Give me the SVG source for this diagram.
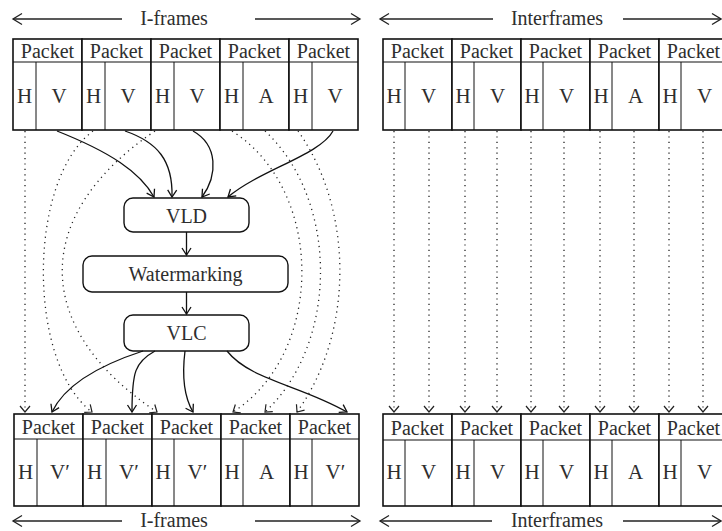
<svg xmlns="http://www.w3.org/2000/svg" width="722" height="531" viewBox="0 0 722 531">
<style>
text{font-family:"Liberation Serif","DejaVu Serif",serif;fill:#2e2e2e;text-anchor:middle}
.pk{font-size:20px}
.cl{font-size:21px}
.lb{font-size:20px}
.bx{font-size:20px}
.cell{fill:#fff;stroke:#111;stroke-width:1.6}
.hl{stroke:#111;stroke-width:1.2}
.dv{stroke:#111;stroke-width:1}
.box{fill:#fff;stroke:#111;stroke-width:1.4}
.sol{fill:none;stroke:#111;stroke-width:1.3;marker-end:url(#ah)}
.dot{fill:none;stroke:#222;stroke-width:1.3;stroke-dasharray:1.2 4.2;marker-end:url(#dh)}
.fa{fill:none;stroke:#222;stroke-width:1.3}
</style>
<defs>
<marker id="ah" markerUnits="userSpaceOnUse" viewBox="-10 -10 20 20" markerWidth="20" markerHeight="20" refX="0" refY="0" orient="auto">
<path d="M-7,-4.5 L0,0 L-7,4.5" fill="none" stroke="#111" stroke-width="1.3" stroke-dasharray="none"/>
</marker>
<marker id="dh" markerUnits="userSpaceOnUse" viewBox="-10 -10 20 20" markerWidth="20" markerHeight="20" refX="0" refY="0" orient="auto">
<path d="M-6,-5 L0,0 L-6,5" fill="none" stroke="#222" stroke-width="1.2" stroke-dasharray="none"/>
</marker>
<marker id="fh" markerUnits="userSpaceOnUse" viewBox="-10 -10 20 20" markerWidth="20" markerHeight="20" refX="0" refY="0" orient="auto-start-reverse">
<path d="M-9,-5.5 L0,0 L-9,5.5" fill="none" stroke="#222" stroke-width="1.3"/>
</marker>
</defs>

<!-- frame labels -->
<g id="label-iframes-top">
<line class="fa" x1="13" y1="19" x2="122" y2="19" marker-start="url(#fh)"/>
<text class="lb" x="174" y="25">I-frames</text>
<line class="fa" x1="255" y1="19" x2="360" y2="19" marker-end="url(#fh)"/>
</g>
<g id="label-interframes-top">
<line class="fa" x1="380" y1="19" x2="493" y2="19" marker-start="url(#fh)"/>
<text class="lb" x="557" y="25">Interframes</text>
<line class="fa" x1="623" y1="19" x2="721" y2="19" marker-end="url(#fh)"/>
</g>
<g id="label-iframes-bottom">
<line class="fa" x1="13" y1="521" x2="122" y2="521" marker-start="url(#fh)"/>
<text class="lb" x="174" y="527">I-frames</text>
<line class="fa" x1="255" y1="521" x2="360" y2="521" marker-end="url(#fh)"/>
</g>
<g id="label-interframes-bottom">
<line class="fa" x1="380" y1="521" x2="492" y2="521" marker-start="url(#fh)"/>
<text class="lb" x="557" y="527">Interframes</text>
<line class="fa" x1="623" y1="521" x2="721" y2="521" marker-end="url(#fh)"/>
</g>

<!-- top-left I-frame packets -->
<g id="tl-p1"><rect class="cell" x="13" y="39" width="69" height="91"/><line class="hl" x1="13" y1="62" x2="82" y2="62"/><line class="dv" x1="36" y1="62" x2="36" y2="130"/><text class="pk" x="47.5" y="58">Packet</text><text class="cl" x="24.5" y="103">H</text><text class="cl" x="59" y="103">V</text></g>
<g id="tl-p2"><rect class="cell" x="82" y="39" width="69" height="91"/><line class="hl" x1="82" y1="62" x2="151" y2="62"/><line class="dv" x1="105" y1="62" x2="105" y2="130"/><text class="pk" x="116.5" y="58">Packet</text><text class="cl" x="93.5" y="103">H</text><text class="cl" x="128" y="103">V</text></g>
<g id="tl-p3"><rect class="cell" x="151" y="39" width="69" height="91"/><line class="hl" x1="151" y1="62" x2="220" y2="62"/><line class="dv" x1="174" y1="62" x2="174" y2="130"/><text class="pk" x="185.5" y="58">Packet</text><text class="cl" x="162.5" y="103">H</text><text class="cl" x="197" y="103">V</text></g>
<g id="tl-p4"><rect class="cell" x="220" y="39" width="69" height="91"/><line class="hl" x1="220" y1="62" x2="289" y2="62"/><line class="dv" x1="243" y1="62" x2="243" y2="130"/><text class="pk" x="254.5" y="58">Packet</text><text class="cl" x="231.5" y="103">H</text><text class="cl" x="266" y="103">A</text></g>
<g id="tl-p5"><rect class="cell" x="289" y="39" width="69" height="91"/><line class="hl" x1="289" y1="62" x2="358" y2="62"/><line class="dv" x1="312" y1="62" x2="312" y2="130"/><text class="pk" x="323.5" y="58">Packet</text><text class="cl" x="300.5" y="103">H</text><text class="cl" x="335" y="103">V</text></g>

<!-- top-right interframe packets -->
<g id="tr-p1"><rect class="cell" x="383" y="39" width="69" height="91"/><line class="hl" x1="383" y1="62" x2="452" y2="62"/><line class="dv" x1="405" y1="62" x2="405" y2="130"/><text class="pk" x="417.5" y="58">Packet</text><text class="cl" x="394" y="103">H</text><text class="cl" x="428.5" y="103">V</text></g>
<g id="tr-p2"><rect class="cell" x="452" y="39" width="69" height="91"/><line class="hl" x1="452" y1="62" x2="521" y2="62"/><line class="dv" x1="474" y1="62" x2="474" y2="130"/><text class="pk" x="486.5" y="58">Packet</text><text class="cl" x="463" y="103">H</text><text class="cl" x="497.5" y="103">V</text></g>
<g id="tr-p3"><rect class="cell" x="521" y="39" width="69" height="91"/><line class="hl" x1="521" y1="62" x2="590" y2="62"/><line class="dv" x1="543" y1="62" x2="543" y2="130"/><text class="pk" x="555.5" y="58">Packet</text><text class="cl" x="532" y="103">H</text><text class="cl" x="566.5" y="103">V</text></g>
<g id="tr-p4"><rect class="cell" x="590" y="39" width="69" height="91"/><line class="hl" x1="590" y1="62" x2="659" y2="62"/><line class="dv" x1="612" y1="62" x2="612" y2="130"/><text class="pk" x="624.5" y="58">Packet</text><text class="cl" x="601" y="103">H</text><text class="cl" x="635.5" y="103">A</text></g>
<g id="tr-p5"><rect class="cell" x="659" y="39" width="69" height="91"/><line class="hl" x1="659" y1="62" x2="728" y2="62"/><line class="dv" x1="681" y1="62" x2="681" y2="130"/><text class="pk" x="693.5" y="58">Packet</text><text class="cl" x="670" y="103">H</text><text class="cl" x="704.5" y="103">V</text></g>

<!-- processing blocks -->
<g id="vld"><rect class="box" x="124" y="198" width="125" height="34" rx="9"/><text class="bx" x="186.5" y="223">VLD</text></g>
<g id="watermarking"><rect class="box" x="83" y="256" width="205" height="36" rx="9"/><text class="bx" x="185.5" y="281">Watermarking</text></g>
<g id="vlc"><rect class="box" x="124" y="315" width="125" height="36" rx="9"/><text class="bx" x="186.5" y="340">VLC</text></g>

<!-- bottom-left I-frame packets -->
<g id="bl-p1"><rect class="cell" x="14" y="414" width="69" height="92"/><line class="hl" x1="14" y1="439" x2="83" y2="439"/><line class="dv" x1="37" y1="439" x2="37" y2="506"/><text class="pk" x="48.5" y="434">Packet</text><text class="cl" x="25.5" y="479">H</text><text class="cl" x="60" y="479">V′</text></g>
<g id="bl-p2"><rect class="cell" x="83" y="414" width="69" height="92"/><line class="hl" x1="83" y1="439" x2="152" y2="439"/><line class="dv" x1="106" y1="439" x2="106" y2="506"/><text class="pk" x="117.5" y="434">Packet</text><text class="cl" x="94.5" y="479">H</text><text class="cl" x="129" y="479">V′</text></g>
<g id="bl-p3"><rect class="cell" x="152" y="414" width="69" height="92"/><line class="hl" x1="152" y1="439" x2="221" y2="439"/><line class="dv" x1="174" y1="439" x2="174" y2="506"/><text class="pk" x="186.5" y="434">Packet</text><text class="cl" x="163" y="479">H</text><text class="cl" x="197.5" y="479">V′</text></g>
<g id="bl-p4"><rect class="cell" x="221" y="414" width="69" height="92"/><line class="hl" x1="221" y1="439" x2="290" y2="439"/><line class="dv" x1="243" y1="439" x2="243" y2="506"/><text class="pk" x="255.5" y="434">Packet</text><text class="cl" x="232" y="479">H</text><text class="cl" x="266.5" y="479">A</text></g>
<g id="bl-p5"><rect class="cell" x="290" y="414" width="69" height="92"/><line class="hl" x1="290" y1="439" x2="359" y2="439"/><line class="dv" x1="312" y1="439" x2="312" y2="506"/><text class="pk" x="324.5" y="434">Packet</text><text class="cl" x="301" y="479">H</text><text class="cl" x="335.5" y="479">V′</text></g>

<!-- bottom-right interframe packets -->
<g id="br-p1"><rect class="cell" x="383" y="414" width="69" height="92"/><line class="hl" x1="383" y1="440" x2="452" y2="440"/><line class="dv" x1="405" y1="440" x2="405" y2="506"/><text class="pk" x="417.5" y="435">Packet</text><text class="cl" x="394" y="479">H</text><text class="cl" x="428.5" y="479">V</text></g>
<g id="br-p2"><rect class="cell" x="452" y="414" width="69" height="92"/><line class="hl" x1="452" y1="440" x2="521" y2="440"/><line class="dv" x1="474" y1="440" x2="474" y2="506"/><text class="pk" x="486.5" y="435">Packet</text><text class="cl" x="463" y="479">H</text><text class="cl" x="497.5" y="479">V</text></g>
<g id="br-p3"><rect class="cell" x="521" y="414" width="69" height="92"/><line class="hl" x1="521" y1="440" x2="590" y2="440"/><line class="dv" x1="543" y1="440" x2="543" y2="506"/><text class="pk" x="555.5" y="435">Packet</text><text class="cl" x="532" y="479">H</text><text class="cl" x="566.5" y="479">V</text></g>
<g id="br-p4"><rect class="cell" x="590" y="414" width="69" height="92"/><line class="hl" x1="590" y1="440" x2="659" y2="440"/><line class="dv" x1="612" y1="440" x2="612" y2="506"/><text class="pk" x="624.5" y="435">Packet</text><text class="cl" x="601" y="479">H</text><text class="cl" x="635.5" y="479">A</text></g>
<g id="br-p5"><rect class="cell" x="659" y="414" width="69" height="92"/><line class="hl" x1="659" y1="440" x2="728" y2="440"/><line class="dv" x1="681" y1="440" x2="681" y2="506"/><text class="pk" x="693.5" y="435">Packet</text><text class="cl" x="670" y="479">H</text><text class="cl" x="704.5" y="479">V</text></g>

<g id="connectors">
<!-- solid: V payloads into VLD -->
<path class="sol" d="M57,131 C110,152 140,172 154,197"/>
<path class="sol" d="M125,131 C157,142 173,160 172,197"/>
<path class="sol" d="M193,131 C218,145 218,175 202,197"/>
<path class="sol" d="M333,131 C320,155 260,170 228,197"/>
<!-- chain -->
<path class="sol" d="M186.5,232 L186.5,255"/>
<path class="sol" d="M186.5,292 L186.5,314"/>
<!-- solid: VLC to watermarked payloads -->
<path class="sol" d="M143,351 C100,365 65,385 52,412"/>
<path class="sol" d="M155,351 C135,362 132,372 132,412"/>
<path class="sol" d="M185,351 C182,375 183,395 193,412"/>
<path class="sol" d="M227,351 C250,380 300,385 347,412"/>
<!-- dotted: bypass for headers/audio -->
<path class="dot" d="M25,131 L25,412"/>
<path class="dot" d="M93,131 C27,180 27,363 92,412"/>
<path class="dot" d="M155,131 C31,215 31,328 157,412"/>
<path class="dot" d="M232,131 C325,190 325,353 233,412"/>
<path class="dot" d="M265,131 C339,200 339,343 265,412"/>
<path class="dot" d="M298,131 C354,210 354,333 297,412"/>
<!-- dotted: interframes pass unchanged -->
<path class="dot" d="M394,131 L394,412"/>
<path class="dot" d="M429,131 L429,412"/>
<path class="dot" d="M465,131 L465,412"/>
<path class="dot" d="M497,131 L497,412"/>
<path class="dot" d="M531,131 L531,412"/>
<path class="dot" d="M564,131 L564,412"/>
<path class="dot" d="M600,131 L600,412"/>
<path class="dot" d="M634,131 L634,412"/>
<path class="dot" d="M669,131 L669,412"/>
<path class="dot" d="M703,131 L703,412"/>
</g>
</svg>
